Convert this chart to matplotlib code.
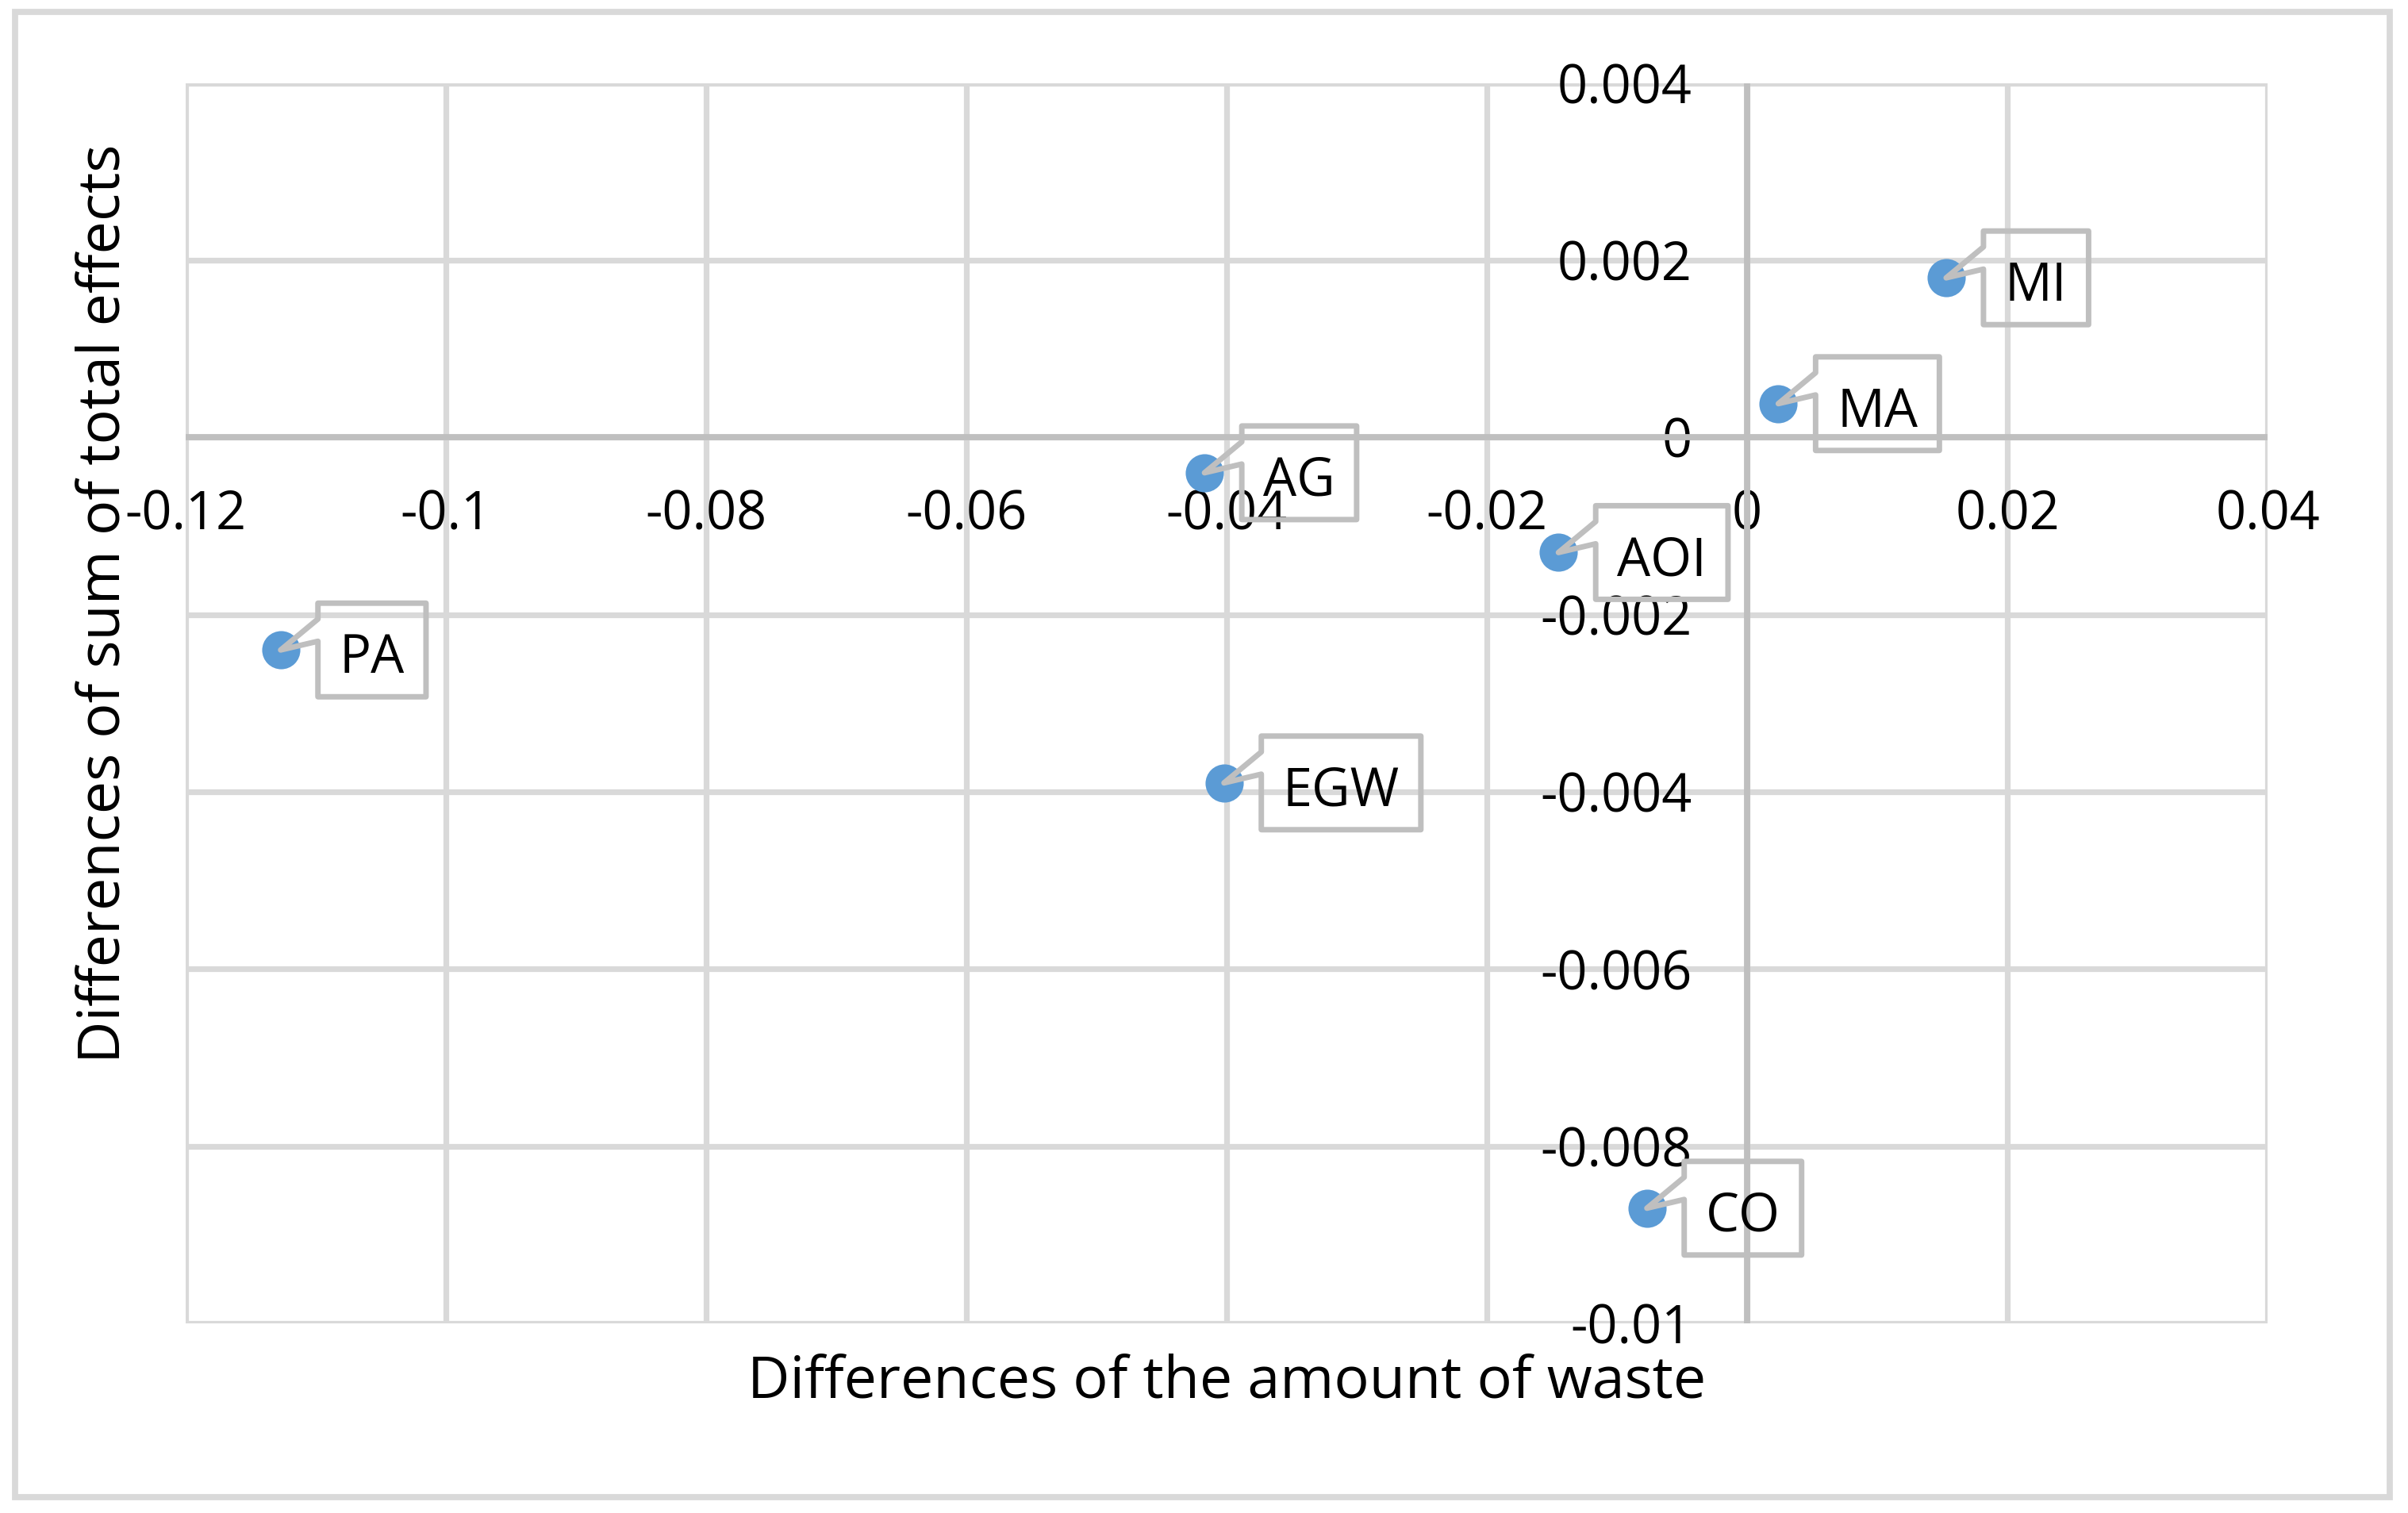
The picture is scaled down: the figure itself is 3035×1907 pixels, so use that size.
import numpy as np
import matplotlib.pyplot as plt
from matplotlib.patches import Polygon, Rectangle
from matplotlib.transforms import Affine2D, ScaledTranslation

plt.rcParams['font.family'] = ['Open Sans', 'DejaVu Sans']

# data
labels = ['MI', 'MA', 'AG', 'AOI', 'PA', 'EGW', 'CO']
waste_diff = [0.0153, 0.0024, -0.0417, -0.0145, -0.1127, -0.0402, -0.0077]
effect_diff = [0.0018, 0.00038, -0.0004, -0.0013, -0.0024, -0.0039, -0.0087]

x_ticks = [-0.12, -0.1, -0.08, -0.06, -0.04, -0.02, 0, 0.02, 0.04]
x_ticklabels = ['-0.12', '-0.1', '-0.08', '-0.06', '-0.04', '-0.02', '0', '0.02', '0.04']
y_ticks = [-0.01, -0.008, -0.006, -0.004, -0.002, 0, 0.002, 0.004]
y_ticklabels = ['-0.01', '-0.008', '-0.006', '-0.004', '-0.002', '0', '0.002', '0.004']

W, H = 3035, 1907
fig = plt.figure(figsize=(W / 100, H / 100), dpi=100)
ax = fig.add_axes([234 / W, 1 - 1668 / H, (2858 - 234) / W, (1668 - 104.5) / H])

ax.set_xlim(-0.12, 0.04)
ax.set_ylim(-0.01, 0.004)
ax.set_xticks(x_ticks)
ax.set_xticklabels(x_ticklabels)
ax.set_yticks(y_ticks)
ax.set_yticklabels(y_ticklabels)

grid_col = '#d9d9d9'
axis_col = '#bfbfbf'
ax.grid(True, color=grid_col, lw=5.2)
for gl in ax.get_xgridlines() + ax.get_ygridlines():
    gl.set_clip_on(False)
ax.set_axisbelow(True)

for s in ['top', 'right']:
    ax.spines[s].set_visible(False)
for s in ['left', 'bottom']:
    ax.spines[s].set_position(('data', 0))
    ax.spines[s].set_color(axis_col)
    ax.spines[s].set_linewidth(5.6)
    ax.spines[s].set_capstyle('butt')
    ax.spines[s].set_zorder(1.5)

ax.tick_params(axis='x', length=0, pad=47, labelsize=48)
ax.tick_params(axis='y', length=0, pad=50, labelsize=48)

ax.set_xlabel('Differences of the amount of waste', fontsize=53)
ax.set_ylabel('Differences of sum of total effects', fontsize=53)
ax.xaxis.set_label_coords(0.5, -0.024)
ax.yaxis.set_label_coords(-0.025, 0.58)

ax.scatter(waste_diff, effect_diff, s=1200, color='#5b9bd5', zorder=3, linewidths=0)

# callout labels (pixel offsets from the point)
L, T, B, a_up, a_low, pad = 47, 59, 59, 39, 11, 27
renderer = fig.canvas.get_renderer()
for lab, x, y in zip(labels, waste_diff, effect_diff):
    trans = Affine2D() + ScaledTranslation(x, y, ax.transData)
    t = ax.text(L + pad, -3, lab, transform=trans, ha='left', va='center_baseline',
                fontsize=48, zorder=5)
    tw = t.get_window_extent(renderer=renderer).width
    R = L + tw + 2 * pad
    verts = [(L, T), (R, T), (R, -B), (L, -B), (L, a_low), (0, 0), (L, a_up)]
    ax.add_patch(Polygon(verts, closed=True, transform=trans, facecolor='none',
                         edgecolor=axis_col, lw=5.0, joinstyle='round',
                         clip_on=False, zorder=4))

fig.patches.append(Rectangle((19 / W, 1 - 1887 / H), (3012 - 19) / W, (1887 - 15) / H,
                             transform=fig.transFigure, fill=False,
                             edgecolor=grid_col, lw=5.6))

fig.savefig('out.png', dpi=100)
